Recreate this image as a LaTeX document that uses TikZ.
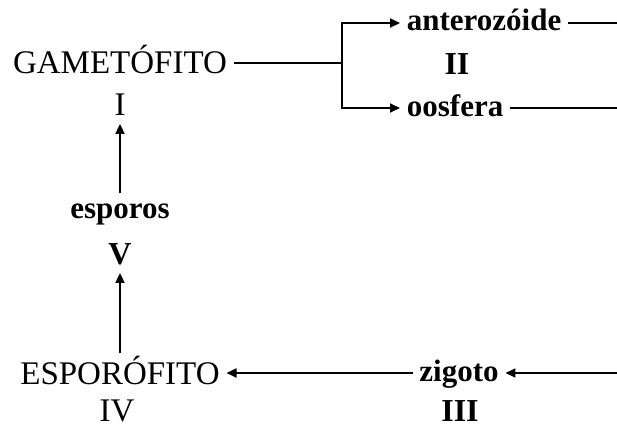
\documentclass[tikz,border=0pt]{standalone}
\usepackage{fontspec}
\setmainfont{Liberation Serif}
\usetikzlibrary{arrows.meta}
\begin{document}
\begin{tikzpicture}[x=0.5pt, y=-0.5pt, line width=0.9pt,
    >={Triangle[length=5pt,width=4.5pt]},
    every node/.style={inner xsep=3pt, inner ysep=4pt, text depth=0pt},
    stage/.style={font=\fontsize{16.5}{20}\selectfont, text height=11pt},
    cell/.style={font=\fontsize{15.5}{19}\selectfont\bfseries, text height=8pt},
    num/.style={font=\fontsize{16.5}{20}\selectfont, text height=11pt,
      inner ysep=0pt},
    bnum/.style={num, font=\fontsize{16}{20}\selectfont\bfseries}]
  \useasboundingbox (0,0) rectangle (617,428);

  % the two generations and the cells between them
  \node[stage] (gam) at (120,63) {GAMETÓFITO};
  \node[num, inner ysep=4pt] (one) at (120,104) {I};
  \node[cell] (esp) at (120,210) {esporos};
  \node[bnum, inner ysep=4pt] (five) at (120,253) {V};
  \node[stage] (spo) at (120,373) {ESPORÓFITO};
  \node[num] (four) at (117,410) {IV};
  \node[cell] (zig) at (459,373) {zigoto};
  \node[bnum] (three) at (460,410) {III};
  \node[cell, anchor=west] (ant) at (400,23) {anterozóide};
  \node[bnum] (two) at (457,64) {II};
  \node[cell, anchor=west] (oos) at (400,108) {oosfera};

  \coordinate (fork) at (342,63);
  \coordinate (antend) at (617,23);
  \coordinate (oosend) at (617,108);
  \coordinate (zigin) at (617,373);

  \draw (gam) -- (fork);
  \draw[->] (fork) |- (ant);
  \draw[->] (fork) |- (oos);
  \draw (ant) -- (antend);
  \draw (oos) -- (oosend);
  \draw[->] (zigin) -- (zig);
  \draw[->] (zig) -- (spo);
  \draw[->] (spo) -- (five);
  \draw[->] (esp) -- (one);
\end{tikzpicture}
\end{document}
